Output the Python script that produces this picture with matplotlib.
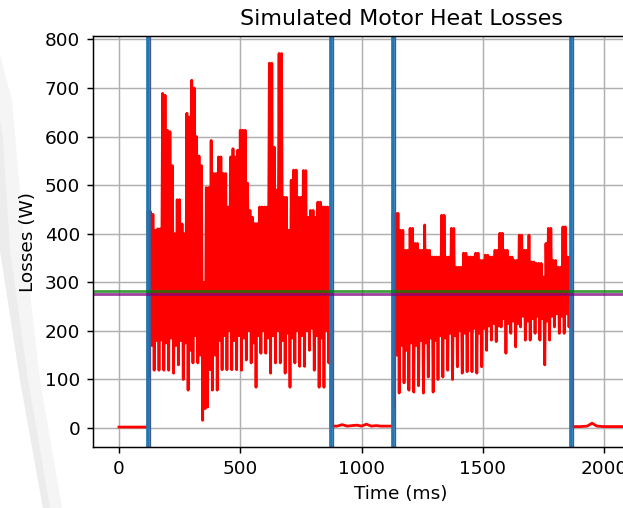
import numpy as np
import matplotlib
matplotlib.use("Agg")
import matplotlib.pyplot as plt
from matplotlib.patches import Polygon
from matplotlib.transforms import offset_copy

# motor on/off switching instants (ms)
step_times = [120, 875, 1130, 1865]

# reference levels (W)
mean_loss = 283
rms_loss = 275

# idle periods: (time ms, losses W)
idle_a_t = [0, 120]
idle_a_loss = [2, 2]
idle_b_t = [875, 900, 920, 940, 960, 980, 1000, 1020, 1040, 1060, 1080, 1100, 1130]
idle_b_loss = [4, 4, 7, 4, 5, 6, 4, 8, 4, 5, 4, 4, 4]
idle_c_t = [1865, 1900, 1930, 1950, 1970, 2000, 2100, 2200, 2300, 2430]
idle_c_loss = [3, 3, 4, 10, 4, 3, 3, 3, 3, 3]

# first run, 120..875 ms: peak samples and trough samples (every 10 ms, offset 5 ms)
run1_start, run1_end = 120, 875
run1_peak = [448, 445, 440, 407, 410, 410, 689, 685, 613, 610,
             540, 400, 470, 470, 420, 400, 648, 640, 716, 700,
             600, 560, 540, 300, 495, 495, 592, 524, 524, 558,
             558, 524, 524, 455, 558, 575, 558, 572, 613, 613,
             613, 504, 448, 434, 421, 421, 455, 455, 455, 455,
             751, 751, 578, 490, 771, 771, 475, 475, 407, 510,
             531, 531, 475, 475, 530, 530, 434, 448, 448, 434,
             465, 465, 455, 455, 455, 455]
run1_trough = [105, 170, 119, 180, 119, 181, 119, 175, 119, 185,
               113, 170, 130, 180, 100, 175, 78, 160, 134, 190,
               134, 150, 16, 40, 43, 120, 78, 150, 78, 180,
               120, 190, 120, 200, 120, 180, 120, 190, 119, 185,
               140, 200, 134, 175, 84, 190, 154, 200, 154, 185,
               113, 190, 134, 200, 134, 180, 113, 195, 84, 185,
               134, 200, 127, 190, 127, 200, 160, 205, 119, 190,
               84, 185, 84, 200, 134, 190]

# second run, 1130..1865 ms
run2_start, run2_end = 1130, 1865
run2_peak = [442, 442, 442, 407, 407, 366, 366, 411, 411, 380,
             380, 366, 366, 418, 366, 366, 352, 352, 352, 352,
             438, 438, 352, 352, 411, 411, 331, 331, 331, 360,
             360, 352, 352, 352, 360, 360, 345, 345, 356, 356,
             352, 352, 366, 366, 401, 401, 366, 366, 352, 352,
             345, 345, 397, 397, 366, 366, 397, 342, 342, 339,
             339, 339, 311, 380, 411, 411, 345, 345, 331, 331,
             414, 414, 352, 352]
run2_trough = [43, 150, 72, 170, 93, 160, 78, 175, 74, 170,
               87, 180, 72, 175, 105, 185, 74, 180, 100, 190,
               105, 185, 119, 195, 100, 190, 126, 200, 113, 195,
               116, 200, 116, 205, 113, 195, 126, 205, 160, 210,
               181, 215, 178, 210, 208, 225, 154, 215, 195, 220,
               167, 215, 208, 230, 181, 220, 181, 225, 195, 230,
               181, 225, 130, 220, 181, 230, 208, 235, 195, 230,
               195, 235, 208, 240]


def run_samples(start, end, peaks, troughs):
    t = np.arange(start, end + 5, 5)
    v = np.empty(len(t))
    v[0::2] = peaks
    v[1::2] = troughs
    return t, v


t1, v1 = run_samples(run1_start, run1_end, run1_peak, run1_trough)
t2, v2 = run_samples(run2_start, run2_end, run2_peak, run2_trough)

time = np.concatenate([idle_a_t, t1, idle_b_t, t2, idle_c_t])
losses = np.concatenate([idle_a_loss, v1, idle_b_loss, v2, idle_c_loss])

DPI = 133
W, H = 623, 508
fig = plt.figure(figsize=(W / DPI, H / DPI), dpi=DPI)

# faint page-curl shadow on the left of the screenshot (drawn behind everything)
outer = [(0, 55), (0, 250), (20, 380), (43, 508), (62, 508), (40, 380), (25, 250), (12, 100)]
core = [(0, 120), (0, 250), (20, 380), (43, 508), (50, 508), (28, 380), (10, 250), (3, 140)]
fig.patches.append(Polygon([(x / W, 1 - y / H) for x, y in outer], closed=True,
                           transform=fig.transFigure, color="#f5f5f5", lw=0, zorder=-2))
fig.patches.append(Polygon([(x / W, 1 - y / H) for x, y in core], closed=True,
                           transform=fig.transFigure, color="#ececec", lw=0, zorder=-1))

# the screenshot cuts the right part of the axes off
ax = fig.add_axes([93 / W, 61 / H, 616 / W, 411 / H])
ax.set_zorder(1)
ax.patch.set_alpha(0)

ax.plot(time, losses, color="red", lw=1.5)
for st in step_times:
    ax.axvline(st, color="C0", lw=2)
    dark = ax.axvline(st, color="#44578f", lw=0.7)
    dark.set_transform(offset_copy(ax.get_xaxis_transform(), fig=fig, x=0.9, units="points"))
ax.axhline(mean_loss, color="green", lw=1.5, alpha=0.75)
ax.axhline(rms_loss, color="purple", lw=1.5, alpha=0.75)

ax.set_xlim(-107, 2432)
ax.set_ylim(-39, 807)
ax.grid(True)
ax.set_title("Simulated Motor Heat Losses", fontsize=12)
ax.set_xlabel("Time (ms)")
ax.set_ylabel("Losses (W)")

fig.savefig("out.png", dpi=DPI)
